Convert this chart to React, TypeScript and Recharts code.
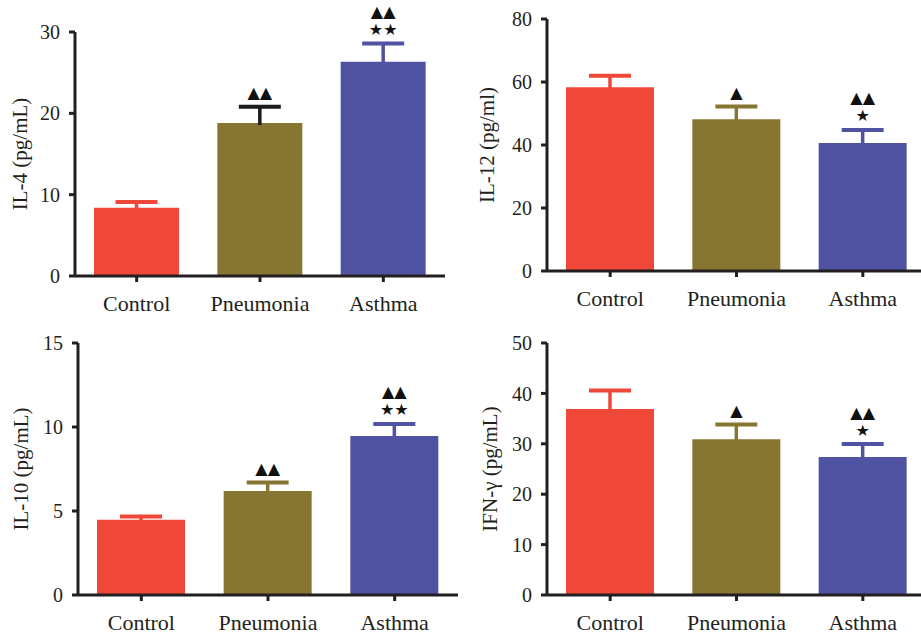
import React from "react";
import { BarChart, Bar, XAxis, YAxis, Cell } from "recharts";

const categories = ["Control", "Pneumonia", "Asthma"];
const barColors = ["#EF4839", "#877632", "#5052A2"];

const il4Means = [8.4, 18.8, 26.35];
const il4Upper = [9.1, 20.8, 28.6];
const il4Ticks = [0, 10, 20, 30];
const il4Marks = [[], ["▲▲"], ["★★", "▲▲"]];

const il12Means = [58.3, 48.2, 40.6];
const il12Upper = [62.0, 52.2, 44.8];
const il12Ticks = [0, 20, 40, 60, 80];
const il12Marks = [[], ["▲"], ["★", "▲▲"]];

const il10Means = [4.48, 6.19, 9.46];
const il10Upper = [4.68, 6.7, 10.18];
const il10Ticks = [0, 5, 10, 15];
const il10Marks = [[], ["▲▲"], ["★★", "▲▲"]];

const ifnMeans = [36.9, 30.9, 27.4];
const ifnUpper = [40.6, 33.85, 29.96];
const ifnTicks = [0, 10, 20, 30, 40, 50];
const ifnMarks = [[], ["▲"], ["★", "▲▲"]];

const INK = "#231f20";
const FONT = "Liberation Serif, DejaVu Serif, serif";

function buildRows(means: number[], upper: number[], marks: string[][]) {
  return categories.map((name, i) => ({
    name,
    value: means[i],
    err: upper[i] - means[i],
    marks: marks[i],
  }));
}

function makeErrorShape(errColors: string[]) {
  return (props: any) => {
    const { x, y, width, height, index, payload } = props;
    const cx = x + width / 2;
    const color = errColors[index];
    const lines: string[] = payload.marks || [];
    return (
      <g>
        <line x1={cx} x2={cx} y1={y} y2={y + height + 2} stroke={color} strokeWidth={3.5} />
        <line x1={cx - 21} x2={cx + 21} y1={y} y2={y} stroke={color} strokeWidth={4} />
        {lines.map((m, k) => (
          <text
            key={k}
            x={cx}
            y={y - 14 - k * 18}
            textAnchor="middle"
            dominantBaseline="central"
            style={{ fontFamily: "DejaVu Sans, sans-serif", fontSize: 16 }}
            fill="#111"
          >
            {m}
          </text>
        ))}
      </g>
    );
  };
}

interface PanelProps {
  left: number;
  top: number;
  width: number;
  height: number;
  axisWidth: number;
  marginTop: number;
  marginRight: number;
  xAxisHeight: number;
  barSize: number;
  ticks: number[];
  label: string;
  labelOffset: number;
  rows: any[];
  errColors: string[];
}

function Panel(p: PanelProps) {
  const max = p.ticks[p.ticks.length - 1];
  return (
    <div style={{ position: "absolute", left: p.left, top: p.top, fontFamily: FONT }}>
      <BarChart
        width={p.width}
        height={p.height}
        data={p.rows}
        margin={{ top: p.marginTop, right: p.marginRight, left: 0, bottom: 0 }}
        style={{ fontFamily: FONT }}
      >
        <XAxis
          dataKey="name"
          height={p.xAxisHeight}
          axisLine={{ stroke: INK, strokeWidth: 3 }}
          tickLine={{ stroke: INK, strokeWidth: 3 }}
          tickSize={6}
          tickMargin={13}
          tick={{ fontSize: 22, fill: INK, fontFamily: FONT }}
          interval={0}
        />
        <YAxis
          width={p.axisWidth}
          domain={[0, max]}
          ticks={p.ticks}
          interval={0}
          axisLine={{ stroke: INK, strokeWidth: 3 }}
          tickLine={{ stroke: INK, strokeWidth: 3 }}
          tickSize={6}
          tickMargin={9}
          tick={{ fontSize: 20, fill: INK, fontFamily: FONT }}
          label={{
            value: p.label,
            angle: -90,
            position: "insideLeft",
            offset: p.labelOffset,
            style: { textAnchor: "middle", fontSize: 21, fill: INK, fontFamily: FONT },
          }}
        />
        <Bar dataKey="value" stackId="a" barSize={p.barSize} isAnimationActive={false}>
          {p.rows.map((r, i) => (
            <Cell key={r.name} fill={barColors[i]} />
          ))}
        </Bar>
        <Bar
          dataKey="err"
          stackId="a"
          barSize={p.barSize}
          isAnimationActive={false}
          shape={makeErrorShape(p.errColors)}
        />
      </BarChart>
    </div>
  );
}

export default function App() {
  return (
    <div
      style={{
        position: "absolute",
        left: 0,
        top: 0,
        width: 921,
        height: 637,
        overflow: "hidden",
        background: "#fff",
      }}
    >
      <Panel
        left={0}
        top={0}
        width={460}
        height={320}
        axisWidth={75}
        marginTop={32}
        marginRight={15}
        xAxisHeight={44}
        barSize={85}
        ticks={il4Ticks}
        label="IL-4 (pg/mL)"
        labelOffset={20}
        rows={buildRows(il4Means, il4Upper, il4Marks)}
        errColors={[barColors[0], "#1c1a1a", barColors[2]]}
      />
      <Panel
        left={460}
        top={0}
        width={466}
        height={320}
        axisWidth={87}
        marginTop={19}
        marginRight={0}
        xAxisHeight={49}
        barSize={88}
        ticks={il12Ticks}
        label="IL-12 (pg/ml)"
        labelOffset={27}
        rows={buildRows(il12Means, il12Upper, il12Marks)}
        errColors={barColors}
      />
      <Panel
        left={0}
        top={320}
        width={460}
        height={317}
        axisWidth={78}
        marginTop={23}
        marginRight={2}
        xAxisHeight={42}
        barSize={88}
        ticks={il10Ticks}
        label="IL-10 (pg/mL)"
        labelOffset={21}
        rows={buildRows(il10Means, il10Upper, il10Marks)}
        errColors={barColors}
      />
      <Panel
        left={460}
        top={320}
        width={466}
        height={317}
        axisWidth={87}
        marginTop={23}
        marginRight={0}
        xAxisHeight={42}
        barSize={88}
        ticks={ifnTicks}
        label="IFN-γ (pg/mL)"
        labelOffset={30}
        rows={buildRows(ifnMeans, ifnUpper, ifnMarks)}
        errColors={barColors}
      />
    </div>
  );
}
